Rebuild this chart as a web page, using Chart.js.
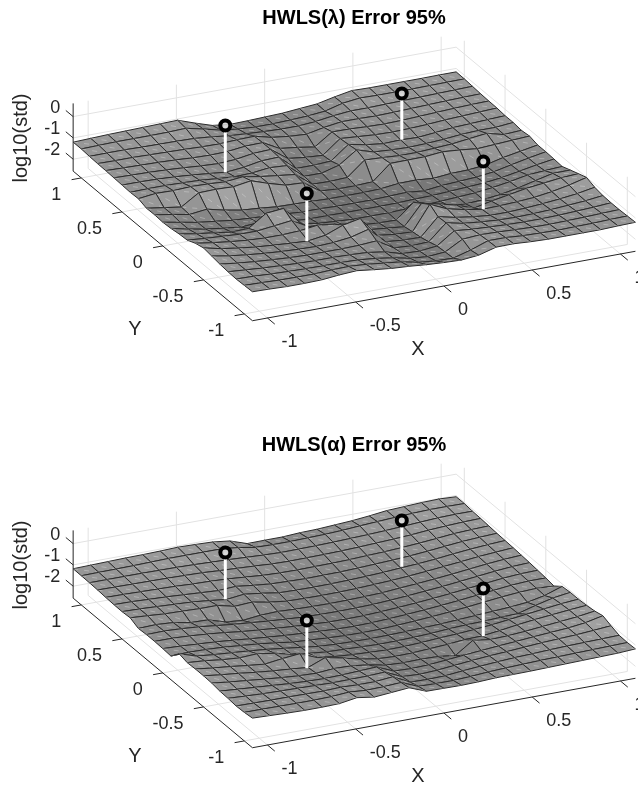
<!DOCTYPE html>
<html>
<head>
<meta charset="utf-8">
<title>HWLS Error 95%</title>
<script src="https://cdn.jsdelivr.net/npm/chart.js@4"></script>
<style>
    html, body { margin: 0; padding: 0; background: #fff; }
    #page { position: relative; width: 638px; height: 785px; overflow: hidden; }
    canvas { position: absolute; left: 0; display: block; }
</style>
</head>
<body>
<div id="page">
    <canvas id="chartLambda" width="638" height="427" style="top:0"></canvas>
    <canvas id="chartAlpha" width="638" height="358" style="top:427px"></canvas>
</div>
<script>
// ========================================
// DATA
// ========================================
const xGrid = [-1.085, -0.986, -0.888, -0.789, -0.691, -0.592, -0.493, -0.395, -0.296, -0.197, -0.099, 0, 0.099, 0.197, 0.296, 0.395, 0.493, 0.592, 0.691, 0.789, 0.888, 0.986, 1.085];
const yGrid = [-1.1, -1, -0.9, -0.8, -0.7, -0.6, -0.5, -0.4, -0.3, -0.2, -0.1, 0, 0.1, 0.2, 0.3, 0.4, 0.5, 0.6, 0.7, 0.8, 0.9, 1, 1.1];

const xTicks = [-1, -0.5, 0, 0.5, 1];
const yTicks = [-1, -0.5, 0, 0.5, 1];
const zTicks = [-2, -1, 0];

// transmitter positions and the stem ends
const markerX = [-0.5, 0.5, -0.5, 0.5];
const markerY = [0.5, 0.5, -0.5, -0.5];
const markerLow = [-1.58, -1.55, -1.62, -1.62];
const markerHigh = [0.62, 0.62, 0.62, 0.62];

// log10(std), one row per yGrid value, one column per xGrid value
const zLambda = [
    [-1.2,-1.22,-1.25,-1.25,-1.23,-1.15,-1.1,-1.2,-1.29,-1.34,-1.41,-1.46,-1.49,-1.41,-1.18,-1.17,-1.22,-1.25,-1.25,-1.25,-1.25,-1.22,-1.2],
    [-1.22,-1.24,-1.27,-1.28,-1.28,-1.24,-1.22,-1.27,-1.36,-1.45,-1.62,-1.7,-1.72,-1.49,-1.2,-1.2,-1.26,-1.28,-1.3,-1.28,-1.27,-1.24,-1.22],
    [-1.24,-1.26,-1.3,-1.33,-1.35,-1.36,-1.36,-1.38,-1.46,-1.58,-1.75,-1.82,-1.75,-1.3,-1.24,-1.26,-1.3,-1.33,-1.34,-1.32,-1.3,-1.27,-1.24],
    [-1.22,-1.28,-1.34,-1.38,-1.42,-1.44,-1.44,-1.46,-1.5,-1.62,-1.85,-1.88,-1.79,-1.22,-1.3,-1.34,-1.38,-1.4,-1.4,-1.38,-1.34,-1.3,-1.24],
    [-1.18,-1.28,-1.36,-1.42,-1.47,-1.5,-1.5,-1.5,-1.48,-1.42,-1.9,-1.95,-1.91,-1.17,-1.34,-1.42,-1.48,-1.5,-1.48,-1.44,-1.38,-1.32,-1.22],
    [-1.12,-1.26,-1.36,-1.44,-1.5,-1.54,-1.56,-1.52,-1.42,-1.2,-1.93,-2,-2.02,-1.2,-1.38,-1.5,-1.58,-1.58,-1.54,-1.48,-1.4,-1.3,-1.15],
    [-1.06,-1.24,-1.36,-1.46,-1.52,-1.58,-1.62,-1.5,-1.18,-1.01,-1.95,-2.05,-2.08,-0.94,-1.3,-1.48,-1.62,-1.6,-1.56,-1.5,-1.38,-1.22,-1.01],
    [-1.16,-1.28,-1.38,-1.46,-1.5,-1.5,-1.46,-1.35,-1.45,-1.6,-2,-2.08,-2.16,-1.21,-1.39,-1.59,-1.88,-1.7,-1.55,-1.4,-1.3,-1.2,-1.15],
    [-1.33,-1.4,-1.45,-1.5,-1.5,-1.4,-1.3,-1.74,-1.9,-2,-2.1,-2.15,-2.17,-1.48,-1.7,-1.95,-2,-1.95,-1.85,-1.7,-1.5,-1.31,-1.3],
    [-1.36,-1.5,-1.6,-1.72,-1.69,-1.13,-1.05,-1.9,-2.05,-2.1,-2.15,-2.15,-2.15,-2.12,-2.1,-2.05,-2,-1.95,-1.85,-1.72,-1.56,-1.5,-1.45],
    [-1.42,-1.6,-1.75,-1.85,-1.95,-1.9,-1.85,-2.1,-2.15,-2.15,-2.16,-2.16,-2.16,-2.15,-2.12,-2.1,-2.05,-2,-1.95,-1.85,-1.7,-1.55,-1.42],
    [-1.45,-1.6,-1.75,-1.85,-1.95,-2,-2.05,-2.1,-2.15,-2.15,-2.18,-2.18,-2.18,-2.15,-2.12,-2.2,-2.1,-2.05,-2,-1.9,-1.72,-1.55,-1.4],
    [-1.42,-1.55,-1.7,-1.6,-1.79,-1.94,-2,-2.08,-2.1,-2.12,-2.15,-2.15,-2.15,-2.12,-2.02,-2.01,-2.08,-2,-1.98,-1.9,-1.7,-1.55,-1.4],
    [-1.43,-1.55,-1.67,-1.15,-1.13,-1.16,-1.03,-1.3,-1.53,-1.57,-2.1,-2.15,-2.15,-2.11,-1.4,-1.39,-1.38,-1.3,-1.36,-1.45,-1.4,-1.35,-1.3],
    [-1.3,-1.2,-1.22,-1.18,-1.2,-1.25,-1.16,-1.3,-1.4,-1.5,-2.1,-2.12,-2.08,-1.41,-1.45,-1.5,-1.5,-1.45,-1.4,-1.3,-1.2,-1.4,-1.35],
    [-1.32,-1.3,-1.3,-1.32,-1.35,-1.42,-1.48,-1.45,-1.35,-1.4,-2.05,-2.05,-1.82,-1.26,-1.5,-1.55,-1.58,-1.55,-1.5,-1.42,-1.38,-1.38,-1.3],
    [-1.3,-1.3,-1.32,-1.36,-1.42,-1.5,-1.58,-1.5,-1.35,-1.32,-2,-2,-1.95,-1.32,-1.48,-1.58,-1.55,-1.58,-1.5,-1.42,-1.38,-1.34,-1.3],
    [-1.28,-1.3,-1.32,-1.35,-1.4,-1.46,-1.5,-1.45,-1.32,-1.28,-1.85,-1.95,-2,-1.36,-1.42,-1.48,-1.5,-1.48,-1.44,-1.38,-1.34,-1.3,-1.26],
    [-1.26,-1.28,-1.3,-1.32,-1.35,-1.4,-1.42,-1.4,-1.3,-1.28,-1.7,-1.8,-1.93,-1.37,-1.38,-1.42,-1.44,-1.42,-1.38,-1.34,-1.3,-1.27,-1.25],
    [-1.25,-1.26,-1.26,-1.28,-1.3,-1.32,-1.35,-1.36,-1.32,-1.3,-1.5,-1.6,-1.65,-1.48,-1.36,-1.36,-1.38,-1.36,-1.33,-1.3,-1.27,-1.25,-1.23],
    [-1.23,-1.22,-1.22,-1.24,-1.25,-1.26,-1.28,-1.35,-1.45,-1.5,-1.55,-1.58,-1.58,-1.52,-1.4,-1.32,-1.32,-1.3,-1.28,-1.26,-1.24,-1.22,-1.2],
    [-1.2,-1.18,-1.16,-1.16,-1.16,-1.15,-1.12,-1.3,-1.5,-1.6,-1.65,-1.65,-1.62,-1.58,-1.5,-1.28,-1.18,-1.2,-1.2,-1.2,-1.19,-1.18,-1.17],
    [-1.2,-1.17,-1.14,-1.12,-1.1,-1.08,-1.06,-1.34,-1.6,-1.7,-1.68,-1.65,-1.62,-1.55,-1.48,-1.3,-1.15,-1.17,-1.17,-1.17,-1.17,-1.16,-1.16]
];

const zAlpha = [
    [-1.17,-1.2,-1.23,-1.25,-1.25,-1.23,-1.1,-1.22,-1.15,-1.08,-1.39,-1.4,-1.41,-1.39,-1.35,-1.34,-1.33,-1.31,-1.29,-1.27,-1.25,-1.23,-1.18],
    [-1.22,-1.22,-1.23,-1.24,-1.24,-1.22,-1.16,-1.22,-1.2,-1.15,-1.48,-1.5,-1.5,-1.46,-1.4,-1.36,-1.33,-1.3,-1.28,-1.26,-1.24,-1.22,-1.2],
    [-1.24,-1.25,-1.26,-1.26,-1.27,-1.28,-1.25,-1.28,-1.28,-1.2,-1.6,-1.62,-1.6,-1.52,-1.45,-1.39,-1.34,-1.31,-1.27,-1.24,-1.22,-1.2,-1.18],
    [-1.2,-1.24,-1.28,-1.3,-1.32,-1.34,-1.36,-1.35,-1.34,-1.3,-1.66,-1.7,-1.66,-1.58,-1.5,-1.43,-1.38,-1.32,-1.26,-1.22,-1.18,-1.12,-1.05],
    [-1.18,-1.24,-1.3,-1.36,-1.42,-1.46,-1.48,-1.46,-1.42,-1.38,-1.72,-1.75,-1.72,-1.65,-1.57,-1.5,-1.43,-1.37,-1.3,-1.24,-1.18,-1.08,-0.9],
    [-1.12,-1.22,-1.3,-1.38,-1.46,-1.52,-1.55,-1.48,-1.5,-1.6,-1.76,-1.8,-1.78,-1.8,-1.9,-1.34,-1.45,-1.42,-1.36,-1.28,-1.2,-1.12,-1],
    [-1.1,-1.2,-1.28,-1.38,-1.46,-1.52,-1.6,-1.28,-1.45,-1.65,-1.78,-1.82,-1.8,-1.75,-1.7,-1.62,-1.6,-1.5,-1.38,-1.28,-1.2,-1.12,-1.05],
    [-1.1,-1.2,-1.28,-1.38,-1.46,-1.35,-1.27,-1.6,-1.7,-1.76,-1.8,-1.83,-1.82,-1.78,-1.72,-1.68,-1.62,-1.55,-1.45,-1.35,-1.25,-1.15,-1.08],
    [-1.12,-1.18,-1.28,-1.34,-1.3,-1.42,-1.62,-1.72,-1.8,-1.83,-1.86,-1.89,-1.88,-1.86,-1.82,-1.76,-1.72,-1.7,-1.66,-1.63,-1.4,-1.2,-1.08],
    [-1.02,-1.28,-1.36,-1.42,-1.48,-1.56,-1.66,-1.76,-1.86,-1.91,-1.93,-1.94,-1.93,-1.91,-1.88,-1.85,-1.8,-1.75,-1.7,-1.65,-1.57,-1.4,-1.12],
    [-1.45,-1.42,-1.44,-1.48,-1.55,-1.62,-1.72,-1.83,-1.88,-1.93,-1.97,-1.98,-1.97,-1.93,-1.88,-1.82,-1.75,-1.67,-1.58,-1.49,-1.42,-1.38,-1.42],
    [-1.42,-1.45,-1.5,-1.55,-1.62,-1.7,-1.77,-1.84,-1.89,-1.94,-1.98,-2,-1.98,-1.94,-1.89,-1.83,-1.76,-1.68,-1.59,-1.5,-1.41,-1.36,-1.36],
    [-1.4,-1.4,-1.44,-1.5,-1.58,-1.68,-1.75,-1.82,-1.88,-1.93,-1.97,-1.98,-1.97,-1.93,-1.88,-1.82,-1.75,-1.67,-1.58,-1.49,-1.4,-1.34,-1.32],
    [-1.4,-1.38,-1.42,-1.48,-1.57,-1.66,-1.73,-1.8,-1.86,-1.91,-1.93,-1.94,-1.93,-1.91,-1.86,-1.8,-1.73,-1.66,-1.57,-1.48,-1.39,-1.32,-1.28],
    [-1.43,-1.4,-1.45,-1.6,-1.62,-1.87,-1.94,-1.85,-1.82,-1.86,-1.88,-1.89,-1.88,-1.86,-1.83,-1.76,-1.7,-1.63,-1.55,-1.46,-1.37,-1.3,-1.25],
    [-1.25,-1.3,-1.36,-1.38,-1.41,-1.41,-1.6,-1.55,-1.7,-1.8,-1.82,-1.83,-1.82,-1.8,-1.76,-1.72,-1.66,-1.59,-1.51,-1.43,-1.34,-1.28,-1.22],
    [-1.28,-1.3,-1.34,-1.38,-1.42,-1.5,-1.6,-1.5,-1.6,-1.73,-1.75,-1.76,-1.75,-1.73,-1.7,-1.66,-1.6,-1.55,-1.48,-1.39,-1.31,-1.25,-1.2],
    [-1.27,-1.28,-1.32,-1.35,-1.4,-1.45,-1.5,-1.45,-1.55,-1.63,-1.66,-1.68,-1.67,-1.66,-1.63,-1.59,-1.55,-1.5,-1.43,-1.35,-1.27,-1.22,-1.18],
    [-1.25,-1.26,-1.28,-1.3,-1.32,-1.36,-1.38,-1.42,-1.48,-1.55,-1.58,-1.59,-1.58,-1.57,-1.55,-1.51,-1.48,-1.43,-1.37,-1.3,-1.22,-1.18,-1.15],
    [-1.22,-1.23,-1.24,-1.25,-1.26,-1.28,-1.3,-1.35,-1.39,-1.43,-1.48,-1.5,-1.49,-1.48,-1.46,-1.43,-1.39,-1.35,-1.3,-1.23,-1.18,-1.14,-1.12],
    [-1.2,-1.2,-1.2,-1.2,-1.21,-1.22,-1.24,-1.27,-1.3,-1.34,-1.38,-1.41,-1.4,-1.39,-1.37,-1.34,-1.31,-1.27,-1.22,-1.17,-1.12,-1.1,-1.1],
    [-1.19,-1.18,-1.17,-1.16,-1.14,-1.12,-1.12,-1.12,-1.12,-1.2,-1.34,-1.36,-1.36,-1.34,-1.32,-1.28,-1.22,-1.17,-1.12,-1.08,-1.05,-1.05,-1.06],
    [-1.18,-1.16,-1.14,-1.12,-1.11,-1.09,-1.06,-1.08,-1.11,-1.21,-1.48,-1.47,-1.47,-1.42,-1.4,-1.35,-1.3,-1.22,-1.12,-1.08,-1.04,-1.02,-1.06]
];

// ========================================
// 3D VIEW (orthographic, same for both axes)
// ========================================
const X_LIM = 1.085, Y_LIM = 1.1, Z_MIN = -2.56, Z_MAX = 0.62;
const INK = '#262626', GRID = '#e2e2e2', EDGE = '#2b2b2b';
const FONT = '"Liberation Sans", Arial, sans-serif';

function project(x, y, z) {
    return {
        x: 354.3 + 176.5 * x - 81.5 * y,
        y: 211.2 - 32 * x - 68 * y - 21.3 * (z - Z_MIN)
    };
}

function lineSet(points, color, width) {
    return {
        data: points,
        showLine: true,
        fill: false,
        borderColor: color,
        borderWidth: width,
        pointRadius: 0,
        tension: 0
    };
}

// flat shading: low parts go dark, slopes facing the viewer go light
function faceColor(zs, i, j) {
    const mean = (zs[j][i] + zs[j][i + 1] + zs[j + 1][i] + zs[j + 1][i + 1]) / 4;
    const dzdx = (zs[j][i + 1] + zs[j + 1][i + 1] - zs[j][i] - zs[j + 1][i]) / 2 / (xGrid[i + 1] - xGrid[i]);
    const dzdy = (zs[j + 1][i] + zs[j + 1][i + 1] - zs[j][i] - zs[j][i + 1]) / 2 / (yGrid[j + 1] - yGrid[j]);
    const slope = Math.max(-1, Math.min(1.5, dzdy * 0.2 + dzdx * 0.06));
    const g = Math.round(146 + 38 * (mean + 1.3) + 18 * slope);
    return `rgb(${g},${g},${g})`;
}

function surfaceSets(zs) {
    const sets = [];
    // back corner first so nearer faces paint over farther ones
    for (let j = yGrid.length - 2; j >= 0; j--) {
        for (let i = xGrid.length - 2; i >= 0; i--) {
            const corners = [
                project(xGrid[i], yGrid[j], zs[j][i]),
                project(xGrid[i + 1], yGrid[j], zs[j][i + 1]),
                project(xGrid[i + 1], yGrid[j + 1], zs[j + 1][i + 1]),
                project(xGrid[i], yGrid[j + 1], zs[j + 1][i])
            ];
            corners.push(corners[0]);
            sets.push({
                data: corners,
                showLine: true,
                fill: 'shape',
                backgroundColor: faceColor(zs, i, j),
                borderColor: EDGE,
                borderWidth: 1,
                borderJoinStyle: 'round',
                pointRadius: 0,
                tension: 0
            });
            // the faint light seam each face shows along its diagonal
            const seam = lineSet([corners[3], corners[1]], 'rgba(255,255,255,0.28)', 1);
            seam.borderDash = [5, 6];
            sets.push(seam);
        }
    }
    return sets;
}

function gridSets() {
    const sets = [];
    const seg = (a, b) => sets.push(lineSet([a, b], GRID, 1));
    xTicks.forEach(t => {
        seg(project(t, -Y_LIM, Z_MIN), project(t, Y_LIM, Z_MIN));
        seg(project(t, Y_LIM, Z_MIN), project(t, Y_LIM, Z_MAX));
    });
    yTicks.forEach(t => {
        seg(project(-X_LIM, t, Z_MIN), project(X_LIM, t, Z_MIN));
        seg(project(X_LIM, t, Z_MIN), project(X_LIM, t, Z_MAX));
    });
    zTicks.forEach(t => {
        seg(project(-X_LIM, Y_LIM, t), project(X_LIM, Y_LIM, t));
        seg(project(X_LIM, Y_LIM, t), project(X_LIM, -Y_LIM, t));
    });
    return sets;
}

function axisSets() {
    const sets = [];
    const seg = (a, b) => sets.push(lineSet([a, b], INK, 1));
    seg(project(-X_LIM, -Y_LIM, Z_MIN), project(X_LIM, -Y_LIM, Z_MIN));
    seg(project(-X_LIM, -Y_LIM, Z_MIN), project(-X_LIM, Y_LIM, Z_MIN));
    seg(project(-X_LIM, Y_LIM, Z_MIN), project(-X_LIM, Y_LIM, Z_MAX));
    xTicks.forEach(t => seg(project(t, -Y_LIM, Z_MIN), project(t, -Y_LIM - 0.09, Z_MIN)));
    yTicks.forEach(t => seg(project(-X_LIM, t, Z_MIN), project(-X_LIM - 0.055, t, Z_MIN)));
    zTicks.forEach(t => seg(project(-X_LIM, Y_LIM, t), project(-X_LIM, Y_LIM + 0.09, t)));
    return sets;
}

function markerSets() {
    const stems = markerX.map((x, k) =>
        lineSet([project(x, markerY[k], markerLow[k]), project(x, markerY[k], markerHigh[k])], '#ffffff', 3));
    const rings = {
        data: markerX.map((x, k) => project(x, markerY[k], markerHigh[k])),
        showLine: false,
        pointRadius: 5,
        pointBorderWidth: 4,
        pointBorderColor: '#000000',
        pointBackgroundColor: 'rgba(215,215,215,0.9)'
    };
    return [...stems, rings];
}

// titles, tick labels and axis names
const labelPlugin = {
    id: 'labelPlugin',
    afterDraw(chart, args, opts) {
        const { ctx, scales } = chart;
        const put = (text, p, dx, dy, align) => {
            ctx.textAlign = align;
            ctx.fillText(text, scales.x.getPixelForValue(p.x) + dx, scales.y.getPixelForValue(p.y) + dy);
        };
        ctx.save();
        ctx.textBaseline = 'middle';
        ctx.fillStyle = INK;
        ctx.font = `18px ${FONT}`;
        xTicks.forEach(t => put(String(t), project(t, -Y_LIM, Z_MIN), 14, 24, 'left'));
        yTicks.forEach(t => put(String(t), project(-X_LIM, t, Z_MIN), -20, 17, 'right'));
        zTicks.forEach(t => put(String(t), project(-X_LIM, Y_LIM, t), -13, -9, 'right'));

        ctx.font = `20px ${FONT}`;
        ctx.textAlign = 'center';
        ctx.fillText('X', 418, 349);
        ctx.fillText('Y', 135, 329);
        ctx.save();
        ctx.translate(21, 138);
        ctx.rotate(-Math.PI / 2);
        ctx.fillText('log10(std)', 0, 0);
        ctx.restore();

        ctx.fillStyle = '#000000';
        ctx.font = `bold 20px ${FONT}`;
        ctx.textBaseline = 'alphabetic';
        ctx.fillText(opts.text, 354, 24);
        ctx.restore();
    }
};

function drawPanel(canvasId, zs, title, height) {
    // Chart.js paints the last dataset first
    const paintOrder = [...gridSets(), ...surfaceSets(zs), ...axisSets(), ...markerSets()];
    new Chart(document.getElementById(canvasId), {
        type: 'scatter',
        data: { datasets: paintOrder.reverse() },
        options: {
            responsive: false,
            animation: false,
            events: [],
            devicePixelRatio: 1,
            layout: { padding: 0, autoPadding: false },
            scales: {
                x: { type: 'linear', min: 0, max: 638, display: false },
                y: { type: 'linear', min: 0, max: height, reverse: true, display: false }
            },
            plugins: {
                legend: { display: false },
                tooltip: { enabled: false },
                labelPlugin: { text: title }
            }
        },
        plugins: [labelPlugin]
    });
}

drawPanel('chartLambda', zLambda, 'HWLS(λ) Error 95%', 427);
drawPanel('chartAlpha', zAlpha, 'HWLS(α) Error 95%', 358);
</script>
</body>
</html>
